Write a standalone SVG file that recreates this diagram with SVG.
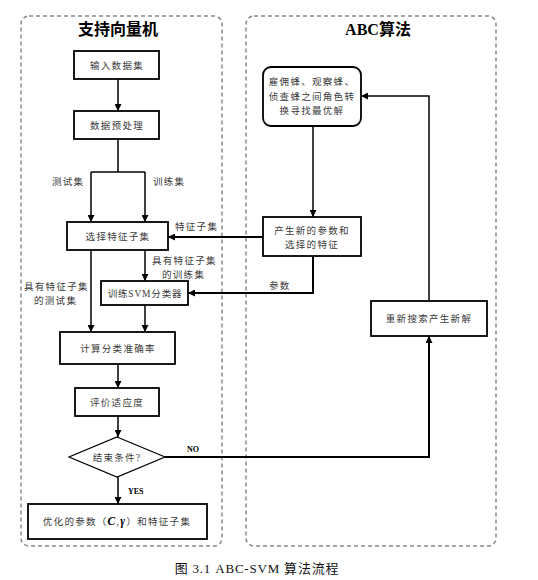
<svg xmlns="http://www.w3.org/2000/svg" width="538" height="580" viewBox="0 0 538 580">
<defs>
<marker id="ah" viewBox="0 0 10 10" refX="10" refY="5" markerWidth="7" markerHeight="7" markerUnits="userSpaceOnUse" orient="auto">
<path d="M0,0 L10,5 L0,10 z" fill="#000"/>
</marker>
<style>
.panel{fill:none;stroke:#8a8a8a;stroke-width:1.5;stroke-dasharray:4 3}
.box{fill:#fff;stroke:#000;stroke-width:1.8}
.t{font-family:"Liberation Serif","Noto Sans CJK SC",serif;font-size:9.5px;fill:#3a3a3a;letter-spacing:1.3px;text-anchor:middle}
.lbl{font-family:"Liberation Serif","Noto Sans CJK SC",serif;font-size:9.5px;fill:#3a3a3a;letter-spacing:1.3px}
.title{font-family:"Liberation Serif","Noto Sans CJK SC",serif;font-size:16px;font-weight:bold;fill:#000;text-anchor:middle}
.en{font-family:"Liberation Serif",serif;font-size:8px;font-weight:bold;fill:#000}
.c{fill:none;stroke:#000;stroke-width:1.5}
.ca{fill:none;stroke:#000;stroke-width:1.5;marker-end:url(#ah)}
.cw{stroke-width:2}
</style>
</defs>
<rect width="538" height="580" fill="#fff"/>
<g id="panel-svm">
<rect class="panel" x="21" y="16" width="201" height="530" rx="8"/>
<text class="title" x="118" y="35">支持向量机</text>
</g>
<g id="panel-abc">
<rect class="panel" x="246" y="16" width="250" height="530" rx="8"/>
<text class="title" x="378" y="35">ABC算法</text>
</g>
<g id="connectors">
<path class="ca" d="M118,79 L118,111"/>
<path class="c" d="M118,139 L118,172"/>
<path class="c" d="M91,172 L145,172"/>
<path class="ca" d="M91,172 L91,222"/>
<path class="ca" d="M145,172 L145,222"/>
<path class="ca" d="M145,250 L145,281"/>
<path class="ca" d="M91,250 L91,332"/>
<path class="ca" d="M145,305 L145,332"/>
<path class="ca" d="M118,364 L118,388"/>
<path class="ca" d="M118,416 L118,437"/>
<path class="ca" d="M118,477 L118,504"/>
<path class="ca cw" d="M165,457 L429,457 L429,336"/>
<path class="ca" d="M429,301 L429,96 L361,96"/>
<path class="ca" d="M313,126 L313,217"/>
<path class="ca cw" d="M263,237 L168,237"/>
<path class="ca cw" d="M313,256 L313,293 L188,293"/>
<text class="lbl" x="52" y="185">测试集</text>
<text class="lbl" x="153" y="185">训练集</text>
<text class="lbl" x="175" y="230">特征子集</text>
<text class="lbl" x="152" y="264">具有特征子集</text>
<text class="lbl" x="162" y="278">的训练集</text>
<text class="lbl" x="24" y="290">具有特征子集</text>
<text class="lbl" x="34" y="304">的测试集</text>
<text class="lbl" x="269" y="289">参数</text>
<text class="en" x="187" y="452">NO</text>
<text class="en" x="128" y="494">YES</text>
</g>
<g id="n-input">
<rect class="box" x="74" y="51" width="85" height="28"/>
<text class="t" x="117" y="69">输入数据集</text>
</g>
<g id="n-preprocess">
<rect class="box" x="74" y="111" width="85" height="28"/>
<text class="t" x="117" y="129">数据预处理</text>
</g>
<g id="n-select">
<rect class="box" x="67" y="222" width="101" height="28"/>
<text class="t" x="118" y="240">选择特征子集</text>
</g>
<g id="n-train">
<rect class="box" x="101" y="281" width="87" height="24"/>
<text class="t" x="145" y="297" style="letter-spacing:0.8px">训练SVM分类器</text>
</g>
<g id="n-calc">
<rect class="box" x="60" y="332" width="115" height="32"/>
<text class="t" x="118" y="352">计算分类准确率</text>
</g>
<g id="n-eval">
<rect class="box" x="75" y="388" width="84" height="28"/>
<text class="t" x="117" y="406">评价适应度</text>
</g>
<g id="n-end">
<path class="box" d="M117,437 L165,457 L117,477 L69,457 Z" style="stroke-width:1.2"/>
<text class="t" x="117" y="461">结束条件?</text>
</g>
<g id="n-result">
<rect class="box" x="28" y="504" width="179" height="35"/>
<text class="t" x="117" y="525">优化的参数（<tspan font-style="italic" font-weight="bold" font-size="11.5" fill="#000">C</tspan>,<tspan font-style="italic" font-weight="bold" font-size="11.5" fill="#000">γ</tspan>）和特征子集</text>
</g>
<g id="n-bees">
<rect class="box" x="263" y="67" width="98" height="59" rx="8"/>
<text class="t" x="312" y="85">雇佣蜂、观察蜂、</text>
<text class="t" x="312" y="100">侦查蜂之间角色转</text>
<text class="t" x="312" y="114">换寻找最优解</text>
</g>
<g id="n-generate">
<rect class="box" x="263" y="217" width="98" height="39"/>
<text class="t" x="312" y="234">产生新的参数和</text>
<text class="t" x="312" y="248">选择的特征</text>
</g>
<g id="n-research">
<rect class="box" x="371" y="301" width="116" height="35"/>
<text class="t" x="429" y="322">重新搜索产生新解</text>
</g>
<g id="caption">
<text x="257" y="573" style="font-family:'Liberation Serif','Noto Sans CJK SC',serif;font-size:13px;font-weight:normal;fill:#111;text-anchor:middle;letter-spacing:0.8px">图 3.1 ABC-SVM 算法流程</text>
</g>
</svg>
